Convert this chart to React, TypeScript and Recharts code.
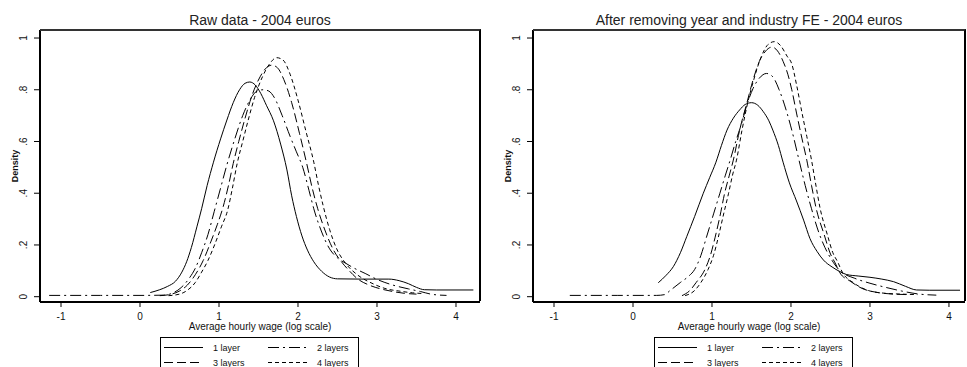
import { LineChart, Line, XAxis, YAxis, Legend, Label } from 'recharts';

type Pair = [number, number];

const layerNames = ['1 layer', '2 layers', '3 layers', '4 layers'];
const layerDashes = ['', '11 4 2 4', '9 4', '4 3'];

const xTicks = [-1, 0, 1, 2, 3, 4];
const yTicks = [0, 0.2, 0.4, 0.6, 0.8, 1];

// left panel: raw data
const raw1: Pair[] = [[0.13,0.016],[0.25,0.027],[0.35,0.04],[0.45,0.06],[0.53,0.095],[0.59,0.135],[0.65,0.19],[0.72,0.27],[0.78,0.34],[0.85,0.43],[0.93,0.52],[1.02,0.61],[1.1,0.683],[1.18,0.75],[1.26,0.8],[1.33,0.825],[1.39,0.83],[1.46,0.818],[1.53,0.785],[1.6,0.74],[1.69,0.68],[1.78,0.59],[1.86,0.49],[1.92,0.39],[1.98,0.31],[2.05,0.235],[2.12,0.18],[2.2,0.135],[2.3,0.098],[2.4,0.076],[2.5,0.069],[2.8,0.068],[3.15,0.068],[3.28,0.062],[3.4,0.05],[3.5,0.036],[3.6,0.027],[3.75,0.026],[4.22,0.026]];
const raw2: Pair[] = [[-1.15,0.005],[-0.5,0.005],[0,0.005],[0.3,0.006],[0.42,0.015],[0.52,0.035],[0.62,0.07],[0.7,0.11],[0.78,0.17],[0.86,0.24],[0.94,0.33],[1.02,0.42],[1.1,0.51],[1.2,0.61],[1.3,0.7],[1.4,0.765],[1.48,0.795],[1.56,0.8],[1.63,0.795],[1.7,0.77],[1.8,0.7],[1.9,0.62],[1.98,0.56],[2.06,0.5],[2.14,0.41],[2.2,0.34],[2.3,0.25],[2.4,0.185],[2.5,0.15],[2.6,0.13],[2.7,0.112],[2.85,0.09],[3,0.067],[3.2,0.045],[3.4,0.03],[3.55,0.02],[3.7,0.009],[3.88,0.005]];
const raw3: Pair[] = [[0.25,0.004],[0.4,0.01],[0.5,0.022],[0.6,0.045],[0.7,0.085],[0.8,0.14],[0.9,0.215],[0.98,0.28],[1.05,0.345],[1.12,0.43],[1.18,0.515],[1.25,0.6],[1.33,0.69],[1.42,0.78],[1.52,0.85],[1.6,0.885],[1.67,0.895],[1.74,0.885],[1.82,0.84],[1.92,0.75],[2.02,0.63],[2.11,0.515],[2.18,0.42],[2.25,0.34],[2.35,0.25],[2.45,0.18],[2.55,0.135],[2.65,0.1],[2.75,0.07],[2.9,0.045],[3.05,0.03],[3.2,0.02],[3.35,0.013],[3.5,0.01]];
const raw4: Pair[] = [[0.36,0.004],[0.5,0.01],[0.6,0.025],[0.7,0.055],[0.78,0.095],[0.86,0.14],[0.95,0.205],[1.03,0.27],[1.11,0.335],[1.17,0.42],[1.23,0.515],[1.3,0.6],[1.37,0.683],[1.45,0.77],[1.55,0.85],[1.64,0.9],[1.73,0.924],[1.81,0.915],[1.9,0.86],[2,0.76],[2.1,0.64],[2.2,0.52],[2.26,0.43],[2.32,0.35],[2.4,0.26],[2.49,0.185],[2.6,0.13],[2.75,0.085],[2.95,0.05],[3.1,0.032],[3.3,0.021],[3.45,0.015],[3.6,0.012]];

// right panel: after removing year and industry FE
const fe1: Pair[] = [[0.32,0.054],[0.42,0.083],[0.51,0.116],[0.6,0.17],[0.68,0.232],[0.78,0.31],[0.89,0.4],[0.97,0.46],[1.05,0.52],[1.12,0.585],[1.19,0.644],[1.27,0.69],[1.35,0.722],[1.42,0.743],[1.5,0.75],[1.58,0.74],[1.65,0.715],[1.72,0.68],[1.77,0.644],[1.84,0.585],[1.9,0.52],[1.98,0.44],[2.07,0.37],[2.16,0.296],[2.24,0.225],[2.33,0.175],[2.41,0.142],[2.52,0.115],[2.62,0.097],[2.7,0.086],[2.85,0.08],[3,0.075],[3.15,0.068],[3.3,0.058],[3.45,0.04],[3.59,0.026],[3.75,0.025],[4.14,0.025]];
const fe2: Pair[] = [[-0.8,0.005],[-0.2,0.005],[0.3,0.005],[0.4,0.008],[0.47,0.024],[0.6,0.055],[0.7,0.078],[0.78,0.105],[0.86,0.16],[0.93,0.23],[1.02,0.32],[1.1,0.4],[1.17,0.47],[1.23,0.528],[1.3,0.6],[1.37,0.665],[1.44,0.74],[1.52,0.805],[1.6,0.845],[1.69,0.863],[1.77,0.85],[1.85,0.8],[1.95,0.71],[2.03,0.62],[2.1,0.53],[2.18,0.43],[2.26,0.34],[2.35,0.25],[2.43,0.19],[2.51,0.145],[2.62,0.1],[2.8,0.072],[3,0.052],[3.2,0.036],[3.4,0.022],[3.6,0.011],[3.84,0.006]];
const fe3: Pair[] = [[0.62,0.004],[0.72,0.024],[0.8,0.055],[0.91,0.105],[0.98,0.16],[1.04,0.23],[1.1,0.31],[1.16,0.4],[1.22,0.47],[1.27,0.528],[1.35,0.644],[1.44,0.747],[1.52,0.838],[1.6,0.91],[1.68,0.95],[1.76,0.965],[1.83,0.95],[1.9,0.91],[1.96,0.86],[2.01,0.8],[2.07,0.71],[2.14,0.61],[2.2,0.528],[2.26,0.43],[2.32,0.34],[2.42,0.24],[2.5,0.165],[2.56,0.13],[2.62,0.092],[2.75,0.06],[2.9,0.032],[3.1,0.016],[3.3,0.01],[3.5,0.008]];
const fe4: Pair[] = [[0.66,0.004],[0.78,0.024],[0.86,0.055],[0.95,0.105],[1.02,0.16],[1.08,0.23],[1.14,0.31],[1.21,0.4],[1.26,0.47],[1.31,0.528],[1.38,0.644],[1.45,0.747],[1.53,0.84],[1.62,0.925],[1.71,0.975],[1.79,0.986],[1.87,0.97],[1.95,0.93],[2.01,0.9],[2.07,0.82],[2.14,0.71],[2.2,0.62],[2.26,0.528],[2.31,0.44],[2.37,0.34],[2.46,0.24],[2.53,0.17],[2.59,0.135],[2.65,0.095],[2.8,0.052],[3,0.022],[3.2,0.013],[3.4,0.01],[3.6,0.008]];

const font = '"Liberation Sans", Arial, sans-serif';
const ink = '#111';
const Y_MIN = -0.0205;
const Y_MAX = 1.031;
const X_MIN = -1.266;
const PLOT_TOP = 30;
const AXIS_H = 65;
const CHART_H = 367;

const toPoints = (pairs: Pair[]) => pairs.map(([x, y]) => ({ x, y }));

const fmtY = (v: number) => (v === 0 ? '0' : v === 1 ? '1' : String(v).replace('0.', '.'));

const YTick = (props: any) => {
  const { x, y, payload } = props;
  return (
    <text x={x} y={y} dy="0.35em" textAnchor="middle" transform={`rotate(-90 ${x} ${y})`}
      fontSize={10} fontFamily={font} fill={ink}>
      {fmtY(payload.value)}
    </text>
  );
};

const LegendBox = () => (
  <div style={{ width: 199, height: 40, border: '1px solid #000', boxSizing: 'border-box', background: '#fff',
    position: 'relative', fontFamily: font, fontSize: 9, color: ink }}>
    {layerNames.map((name, i) => {
      const col = i % 2;
      const row = Math.floor(i / 2);
      return (
        <div key={name} style={{ position: 'absolute', left: col === 0 ? 3 : 107, top: row === 0 ? 3 : 18,
          height: 13, display: 'flex', alignItems: 'center', whiteSpace: 'nowrap' }}>
          <svg width={39} height={13}>
            <line x1={0} x2={39} y1={6.5} y2={6.5} stroke="#000" strokeWidth={1}
              strokeDasharray={layerDashes[i] || undefined} />
          </svg>
          <span style={{ marginLeft: 10 }}>{name}</span>
        </div>
      );
    })}
  </div>
);

interface PanelProps {
  title: string;
  series: Pair[][];
  width: number;
  axisWidth: number;
  rightPad: number;
  xMax: number;
  legendLeft: number;
}

const Panel = ({ title, series, width, axisWidth, rightPad, xMax, legendLeft }: PanelProps) => {
  const centerX = (axisWidth + width - rightPad) / 2;
  const plotW = width - rightPad - axisWidth;
  const plotH = CHART_H - PLOT_TOP - AXIS_H;
  return (
    <div style={{ position: 'relative', width, height: CHART_H, flex: 'none' }}>
      <LineChart width={width} height={CHART_H} margin={{ top: PLOT_TOP, right: rightPad, bottom: 0, left: 0 }}>
        <XAxis dataKey="x" type="number" domain={[X_MIN, xMax]} ticks={xTicks} allowDataOverflow
          height={AXIS_H} tickSize={5} tickMargin={6}
          tick={{ fontSize: 10, fill: ink, fontFamily: font }}
          tickLine={{ stroke: '#000' }} axisLine={{ stroke: '#000', strokeWidth: 2 }}>
          <Label content={() => (
            <text x={centerX} y={25} textAnchor="middle" fontSize={14} fontFamily={font} fill="#222">{title}</text>
          )} />
          <Label content={() => (
            <text x={centerX} y={330} textAnchor="middle" fontSize={10} fontFamily={font} fill={ink}>
              Average hourly wage (log scale)
            </text>
          )} />
        </XAxis>
        <YAxis type="number" domain={[Y_MIN, Y_MAX]} ticks={yTicks} allowDataOverflow
          width={axisWidth} tickSize={6} tickMargin={10} tick={<YTick />}
          tickLine={{ stroke: '#000' }} axisLine={{ stroke: '#000', strokeWidth: 2 }}>
          <Label content={() => (
            <text x={axisWidth - 25} y={166} dy="0.35em" textAnchor="middle" transform={`rotate(-90 ${axisWidth - 25} 166)`}
              fontSize={9} fontWeight="bold" fontFamily={font} fill={ink}>
              Density
            </text>
          )} />
        </YAxis>
        {series.map((pairs, i) => (
          <Line key={layerNames[i]} name={layerNames[i]} data={toPoints(pairs)} dataKey="y" type="monotone"
            stroke="#000" strokeWidth={1} strokeDasharray={layerDashes[i] || undefined}
            dot={false} activeDot={false} isAnimationActive={false} legendType="none" />
        ))}
        <Legend layout="horizontal" verticalAlign="middle" align="center" content={() => <LegendBox />}
          wrapperStyle={{ left: legendLeft, top: 337, width: 199 }} />
      </LineChart>
      {/* top and right edges of the plot frame */}
      <div style={{ position: 'absolute', zIndex: 5, left: axisWidth, top: PLOT_TOP - 1, width: plotW + 1, height: plotH,
        borderTop: '2px solid #333', borderRight: '2px solid #000', boxSizing: 'border-box', pointerEvents: 'none' }} />
    </div>
  );
};

export default function App() {
  return (
    <div style={{ position: 'absolute', left: 0, top: 0, width: 967, height: 367, overflow: 'hidden',
      background: '#fff', display: 'flex' }}>
      <Panel title="Raw data - 2004 euros" series={[raw1, raw2, raw3, raw4]}
        width={483} axisWidth={40} rightPad={3} xMax={4.304} legendLeft={160} />
      <Panel title="After removing year and industry FE - 2004 euros" series={[fe1, fe2, fe3, fe4]}
        width={484} axisWidth={50} rightPad={2} xMax={4.203} legendLeft={171} />
    </div>
  );
}
